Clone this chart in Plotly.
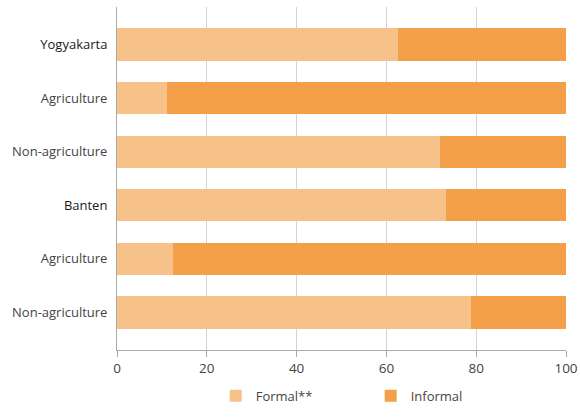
import plotly.graph_objects as go

categories = ["Yogyakarta", "Agriculture", "Non-agriculture", "Banten", "Agriculture", "Non-agriculture"]
is_region = [True, False, False, True, False, False]
formal = [62.6, 11.1, 71.9, 73.3, 12.5, 78.8]
informal = [37.4, 89.1, 28.1, 26.7, 87.5, 21.2]
series_names = ["Formal**", "Informal"]
x_ticks = [0, 20, 40, 60, 80, 100]

ypos = list(range(len(categories)))
ticktext = [
    (f"<span style='color:#1a1a1a'>{c}</span>" if r else c)
    for c, r in zip(categories, is_region)
]

fig = go.Figure()
fig.add_trace(go.Bar(y=ypos, x=formal, orientation="h", name=series_names[0],
                     marker=dict(color="#F7C289", line=dict(width=0)), width=0.6))
fig.add_trace(go.Bar(y=ypos, x=informal, orientation="h", name=series_names[1],
                     marker=dict(color="#F4A04A", line=dict(width=0)), width=0.6))

fig.update_layout(
    barmode="stack",
    width=580, height=418,
    margin=dict(l=117, r=14, t=7, b=62),
    paper_bgcolor="white", plot_bgcolor="white",
    font=dict(family="Open Sans", size=13, color="#444444"),
    showlegend=True,
    legend=dict(orientation="h", x=0.565, xanchor="center", y=-0.177, yanchor="bottom",
                font=dict(size=13, color="#444444"), entrywidth=110,
                itemwidth=30, traceorder="normal"),
    xaxis=dict(range=[0, 100], tickvals=x_ticks, showgrid=True, gridcolor="#d4d4d4",
               gridwidth=1, showline=True, linecolor="#aaaaaa", linewidth=1,
               ticks="outside", ticklen=6, tickcolor="#aaaaaa", zeroline=False,
               automargin=False, ticklabeloverflow="allow",
               tickfont=dict(size=13.5, color="#444444")),
    yaxis=dict(range=[5.7, -0.7], tickvals=ypos, ticktext=ticktext, showgrid=False,
               showline=True, linecolor="#aaaaaa", linewidth=1, ticks="",
               ticklabelstandoff=6, zeroline=False, automargin=False,
               tickfont=dict(size=13, color="#444444")),
)

fig.write_html(
    "out.html",
    config={"displayModeBar": False},
    post_script="document.body.style.margin='0';document.body.style.overflow='hidden';",
)
